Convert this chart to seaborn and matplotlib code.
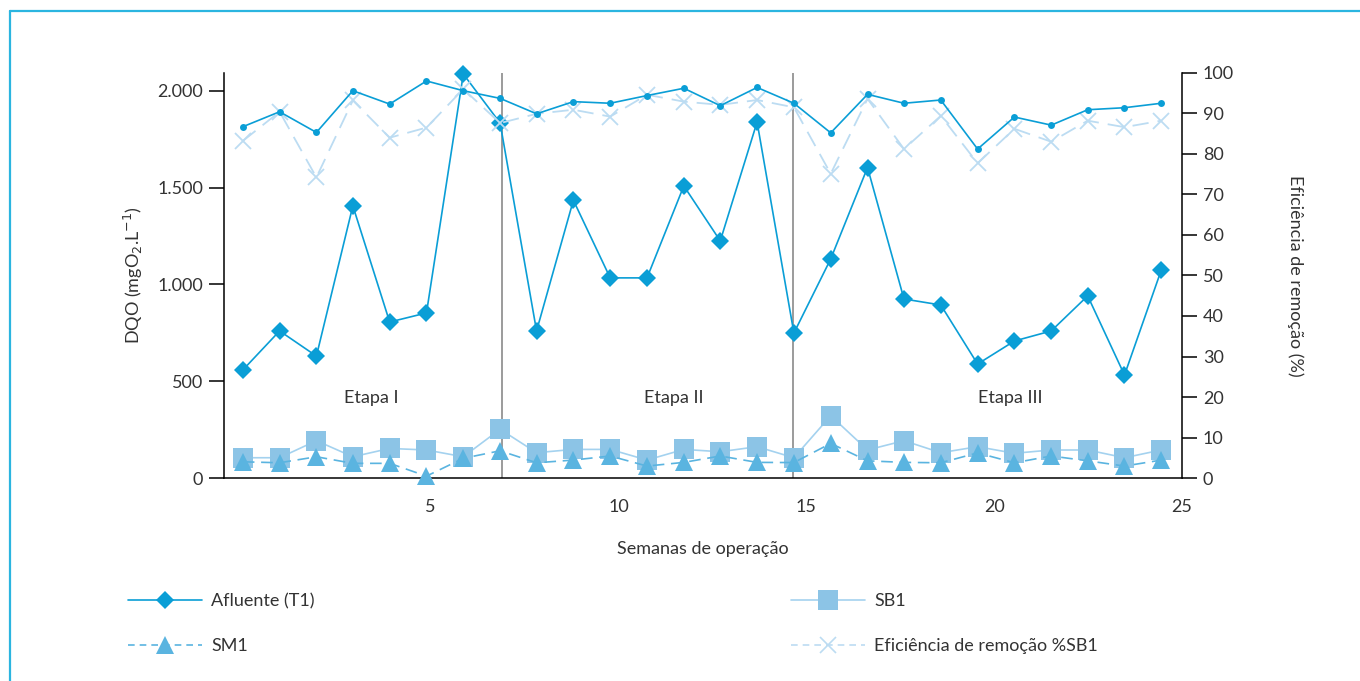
"""
DQO do afluente, SB1 e SM1 ao longo das semanas de operação,
com a eficiência de remoção no eixo secundário.
"""

## Import packages
import matplotlib
matplotlib.use('Agg')
import matplotlib.pyplot as plt
import matplotlib.lines as mlines
import seaborn as sns
import pandas as pd


## Data
semanas = [0.00, 0.98, 1.96, 2.93, 3.91, 4.89, 5.87, 6.85, 7.82, 8.80,
           9.78, 10.76, 11.74, 12.71, 13.69, 14.67, 15.65, 16.63, 17.60, 18.58,
           19.56, 20.54, 21.52, 22.49, 23.47, 24.45]

afluente = [558, 760, 630, 1406, 806, 853, 2087, 1834, 760, 1435,
            1034, 1034, 1509, 1225, 1839, 749, 1132, 1604, 925, 894,
            589, 708, 760, 941, 532, 1075]

sb1 = [105, 105, 193, 110, 153, 145, 110, 252, 131, 148,
       148, 93, 148, 136, 162, 105, 322, 145, 193, 131,
       162, 128, 145, 145, 105, 145]

sm1 = [84, 79, 110, 76, 76, 10, 102, 141, 79, 93,
       114, 62, 81, 114, 81, 80, 179, 89, 81, 79,
       130, 79, 114, 89, 62, 93]

# Eficiência de remoção %SB1 (eixo da direita)
ef_sb1 = [83.2, 90.4, 74.2, 93.2, 84.0, 86.5, 96.0, 87.6, 89.9, 90.9,
          89.2, 94.6, 92.9, 92.1, 93.3, 91.5, 75.1, 93.6, 81.2, 89.4,
          77.7, 86.2, 83.0, 88.2, 86.6, 88.2]

# Eficiência de remoção da outra série (linha contínua com pontos)
ef_sm1 = [86.7, 90.4, 85.3, 95.6, 92.3, 98.0, 95.6, 93.7, 89.9, 92.9,
          92.5, 94.4, 96.2, 91.9, 96.4, 92.5, 85.2, 94.7, 92.5, 93.3,
          81.2, 89.1, 87.1, 90.9, 91.4, 92.5]

etapas = ["Etapa I", "Etapa II", "Etapa III"]
etapa_x = [3.42, 11.47, 20.44]
divisoes = [6.91, 14.65]

df = pd.DataFrame({'semana': semanas, 'afluente': afluente, 'sb1': sb1,
                   'sm1': sm1, 'ef_sb1': ef_sb1, 'ef_sm1': ef_sm1})


## Style
sns.set_theme(style='white')
plt.rcParams['font.family'] = ['Lato', 'DejaVu Sans']

c_dark = '#0a9ed6'
c_sq = '#8cc4e6'
c_sq_line = '#a4d2ef'
c_tri = '#5ab4e0'
c_ef = '#bcdcf2'
txt = '#333333'

fs = 13


## Figure
fig = plt.figure(figsize=(13.6, 6.81), dpi=100)
ax = fig.add_axes([0.1647, 0.298, 0.7044, 0.595])
ax2 = ax.twinx()

# Left axis series
sns.lineplot(data=df, x='semana', y='afluente', ax=ax, sort=False, color=c_dark,
             lw=1.2, marker='D', markersize=9, markeredgewidth=0, zorder=5,
             clip_on=False)
sns.lineplot(data=df, x='semana', y='sb1', ax=ax, sort=False, color=c_sq_line,
             lw=1.2, marker='s', markersize=14, markerfacecolor=c_sq,
             markeredgewidth=0, zorder=3)
sns.lineplot(data=df, x='semana', y='sm1', ax=ax, sort=False, color=c_tri,
             lw=1.2, marker='^', markersize=13, markeredgewidth=0,
             dashes=(7, 4), zorder=4, clip_on=False)

# Right axis series
sns.lineplot(data=df, x='semana', y='ef_sb1', ax=ax2, sort=False, color=c_ef,
             lw=1.3, marker='x', markersize=12, markeredgewidth=1.3,
             markeredgecolor=c_ef, dashes=(9, 5), zorder=3)
sns.lineplot(data=df, x='semana', y='ef_sm1', ax=ax2, sort=False, color=c_dark,
             lw=1.2, marker='o', markersize=5, markeredgewidth=0, zorder=4)

# Stage dividers and labels
for xv in divisoes:
    ax.axvline(xv, color='#8a8a8a', lw=1.2, zorder=1)
for lab, xv in zip(etapas, etapa_x):
    ax.text(xv, 413, lab, ha='center', va='center', fontsize=fs, color=txt)

# Axis limits and ticks
ax.set_xlim(-0.5, 25)
ax.set_ylim(0, 2093)
ax2.set_ylim(0, 100)
ax.set_xticks([5, 10, 15, 20, 25])
ax.set_yticks([0, 500, 1000, 1500, 2000])
ax.set_yticklabels(['0', '500', '1.000', '1.500', '2.000'])
ax2.set_yticks(range(0, 101, 10))

for a in (ax, ax2):
    a.tick_params(direction='out', length=11, width=1.1, colors='black',
                  labelcolor=txt, labelsize=fs, pad=4)
    for s in a.spines.values():
        s.set_visible(False)
ax.spines['left'].set_visible(True)
ax.spines['bottom'].set_visible(True)
ax2.spines['right'].set_visible(True)
for s in (ax.spines['left'], ax.spines['bottom'], ax2.spines['right']):
    s.set_linewidth(1.1)
    s.set_color('black')

ax.set_xlabel("Semanas de operação", fontsize=fs, color=txt, labelpad=19)
ax.set_ylabel("DQO (mgO$_2$.L$^{-1}$)", fontsize=fs, color=txt, labelpad=9)
ax2.set_ylabel("Eficiência de remoção (%)", fontsize=fs, color=txt,
               rotation=270, labelpad=50)
ax.grid(False)
ax2.grid(False)
if ax.get_legend():
    ax.get_legend().remove()


## Legend (two columns below the plot)
h_af = mlines.Line2D([], [], color=c_dark, lw=1.2, marker='D', markersize=9,
                     markeredgewidth=0)
h_sm = mlines.Line2D([], [], color=c_tri, lw=1.2, marker='^', markersize=13,
                     markeredgewidth=0, dashes=(4, 3))
h_sb = mlines.Line2D([], [], color=c_sq_line, lw=1.2, marker='s', markersize=14,
                     markerfacecolor=c_sq, markeredgewidth=0)
h_ef = mlines.Line2D([], [], color=c_ef, lw=1.2, marker='x', markersize=12,
                     markeredgewidth=1.2, markeredgecolor=c_ef, dashes=(4, 3))

leg_kw = dict(frameon=False, fontsize=fs, handlelength=4.1, handletextpad=0.5,
              labelspacing=1.6, borderpad=0, borderaxespad=0, loc='upper left',
              labelcolor=txt)
leg1 = fig.legend([h_af, h_sm], ["Afluente (T1)", "SM1"],
                  bbox_to_anchor=(128 / 1360, 1 - 593 / 681), **leg_kw)
leg2 = fig.legend([h_sb, h_ef], ["SB1", "Eficiência de remoção %SB1"],
                  bbox_to_anchor=(791 / 1360, 1 - 593 / 681), **leg_kw)

# Light blue frame (left and top edges)
frame_c = '#2bb5e0'
fig.add_artist(mlines.Line2D([10 / 1360, 10 / 1360], [0, 1 - 11 / 681],
                             transform=fig.transFigure, color=frame_c, lw=1.6))
fig.add_artist(mlines.Line2D([10 / 1360, 1], [1 - 11 / 681, 1 - 11 / 681],
                             transform=fig.transFigure, color=frame_c, lw=1.6))

# Save figure
plt.savefig("out.png", dpi=100)
